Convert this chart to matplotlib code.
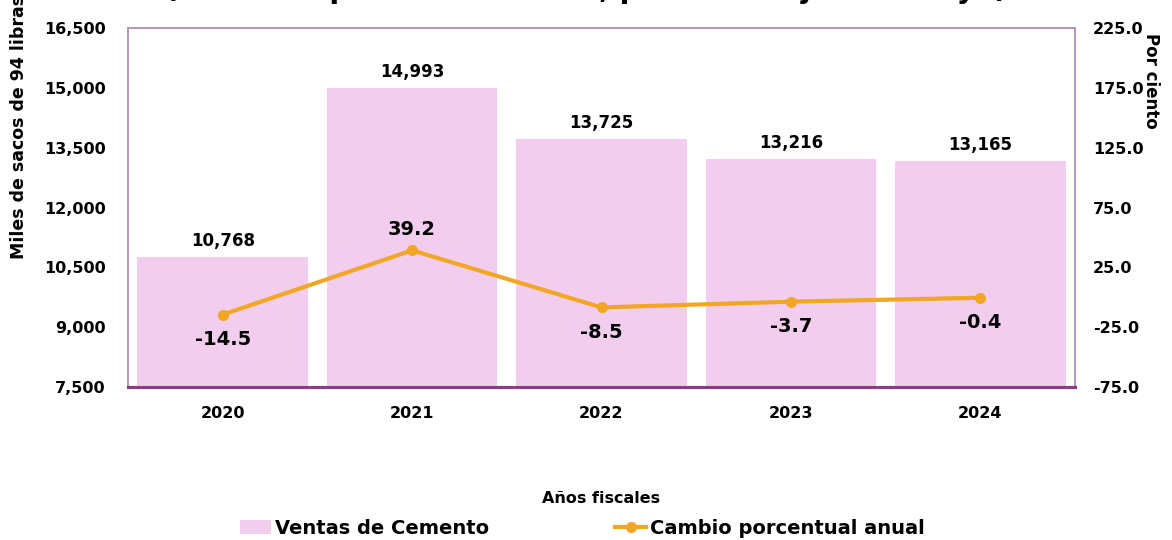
import numpy as np
import matplotlib.pyplot as plt
from matplotlib.ticker import FuncFormatter

# Datos
anios = ["2020", "2021", "2022", "2023", "2024"]
ventas = [10768, 14993, 13725, 13216, 13165]
cambio = [-14.5, 39.2, -8.5, -3.7, -0.4]

color_barra = "#F2CDEE"
color_linea = "#F2A625"
color_eje = "#8E3A87"
color_marco = "#B995B5"

plt.rcParams['font.family'] = ['DejaVu Sans']
plt.rcParams['font.weight'] = 'bold'

fig = plt.figure(figsize=(11.72, 5.40), dpi=100)
ax = fig.add_axes([128 / 1172, 1 - 387 / 540, 947 / 1172, 359 / 540])
ax2 = ax.twinx()

x = np.arange(len(anios))
ax.bar(x, ventas, width=0.9, color=color_barra, label="Ventas de Cemento", zorder=1)
ax.set_xlim(-0.5, len(anios) - 0.5)
ax.set_ylim(7500, 16500)
ax.set_yticks(np.arange(7500, 16501, 1500))
ax.yaxis.set_major_formatter(FuncFormatter(lambda v, p: f"{v:,.0f}"))
ax.set_xticks(x)
ax.set_xticklabels(anios, fontsize=11.5, fontweight='bold')
ax.tick_params(axis='both', length=0, labelsize=11.5)
ax.tick_params(axis='x', pad=14)
ax.tick_params(axis='y', pad=16)
for t in ax.get_yticklabels():
    t.set_fontweight('bold')

for xi, v in zip(x, ventas):
    ax.annotate(f"{v:,}", (xi, v), xytext=(0, 5), textcoords='offset points',
                ha='center', va='bottom', fontsize=12, fontweight='bold')

ax2.plot(x, cambio, color=color_linea, lw=3, marker='o', markersize=7,
         label="Cambio porcentual anual", zorder=3)
ax2.set_ylim(-75, 225)
ax2.set_yticks(np.arange(-75, 226, 50))
ax2.yaxis.set_major_formatter(FuncFormatter(lambda v, p: f"{v:.1f}"))
ax2.tick_params(axis='y', length=0, labelsize=11.5, pad=13)
for t in ax2.get_yticklabels():
    t.set_fontweight('bold')

for xi, v in zip(x, cambio):
    if v > 20:
        off, va = 8, 'bottom'
    else:
        off, va = -11, 'top'
    ax2.annotate(f"{v:.1f}", (xi, v), xytext=(0, off), textcoords='offset points',
                 ha='center', va=va, fontsize=14, fontweight='bold')

for a in (ax, ax2):
    for s in ('top', 'left', 'right'):
        a.spines[s].set_color(color_marco)
        a.spines[s].set_linewidth(1.2)
    a.spines['bottom'].set_color(color_eje)
    a.spines['bottom'].set_linewidth(2.2)

ax.set_ylabel("Miles de sacos de 94 libras", fontsize=12.5, fontweight='bold')
ax.yaxis.set_label_coords(-0.106, 0.725)
ax2.set_ylabel("Por ciento", fontsize=12, fontweight='bold', rotation=270, va='center')
ax2.yaxis.set_label_coords(1.080, 0.852)
ax.set_xlabel("Años fiscales", fontsize=11.5, fontweight='bold', labelpad=50)

# titulo (queda cortado en la parte superior, como en el original)
fig.text(0.50, 1 + 2 / 540, "(Cemento por años fiscales, período de julio a mayo)",
         ha='center', va='baseline', fontsize=20.3, fontweight='bold')

h1, l1 = ax.get_legend_handles_labels()
h2, l2 = ax2.get_legend_handles_labels()
fig.legend(h1 + h2, l1 + l2, loc='center', bbox_to_anchor=(0.497, 1 - 528 / 540),
           ncol=2, frameon=False, fontsize=14, columnspacing=6.5,
           handlelength=1.6, handletextpad=0.2)

fig.savefig("out.png", dpi=100)
